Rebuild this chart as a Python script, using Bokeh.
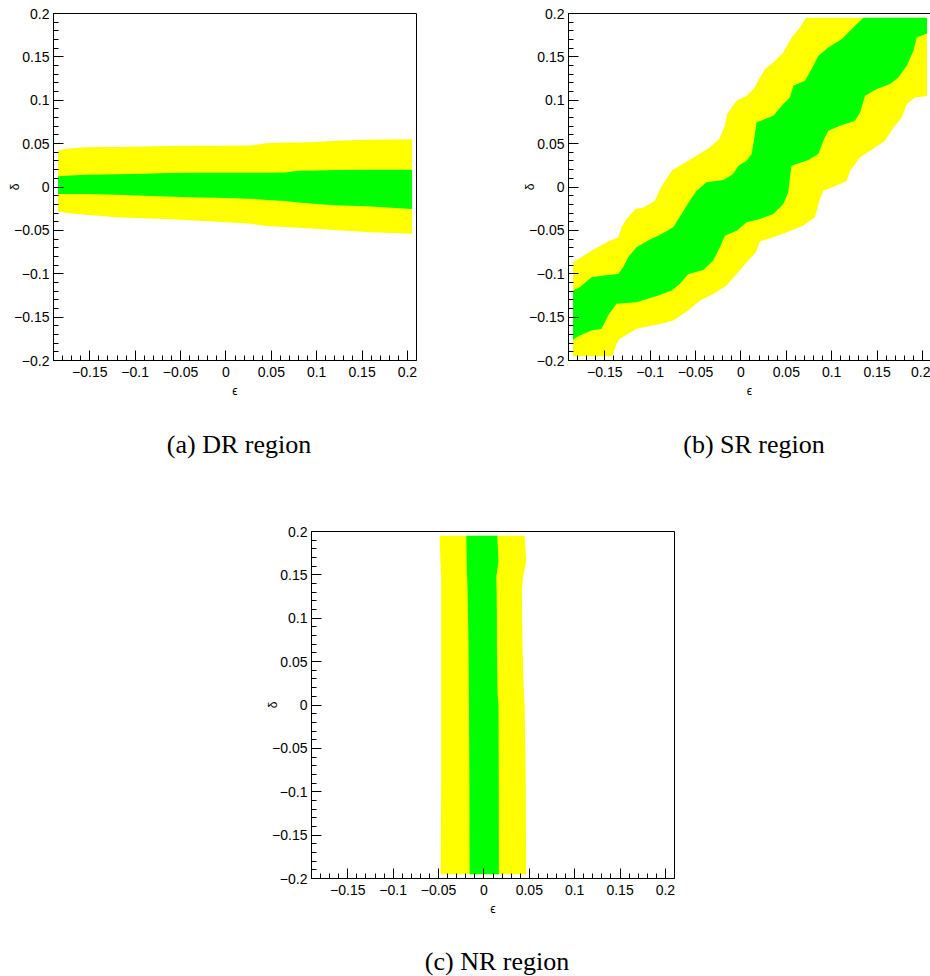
from bokeh.plotting import figure
from bokeh.models import FixedTicker, CustomJSTickFormatter, LinearAxis, Spacer, Range1d, Div
from bokeh.layouts import column, row
from bokeh.embed import file_html
from bokeh.resources import INLINE

# ---------------- data ----------------
tick_values = [-0.2, -0.15, -0.1, -0.05, 0.0, 0.05, 0.1, 0.15, 0.2]
tick_labels = ["\u22120.2", "\u22120.15", "\u22120.1", "\u22120.05", "0", "0.05", "0.1", "0.15", "0.2"]
minor_values = [round(-0.2 + 0.01 * i, 2) for i in range(41)]
captions = ["(a) DR region", "(b) SR region", "(c) NR region"]

# (a) DR region: band boundaries vs epsilon
dr_eps = [-0.185, -0.175, -0.155, -0.12, -0.09, -0.065, -0.03, -0.01, 0.025, 0.035,
          0.045, 0.065, 0.08, 0.1, 0.12, 0.155, 0.205]
dr_yellow_up = [0.042, 0.044, 0.0457, 0.0462, 0.0466, 0.0472, 0.0476, 0.0476, 0.0478, 0.049,
                0.0503, 0.0512, 0.0514, 0.0518, 0.0534, 0.0545, 0.0549]
dr_green_up = [0.0123, 0.013, 0.0142, 0.0148, 0.0152, 0.016, 0.0163, 0.0165, 0.0165, 0.0165,
               0.0165, 0.0168, 0.0188, 0.019, 0.0195, 0.020, 0.020]
dr_green_lo = [-0.0081, -0.0081, -0.0082, -0.009, -0.010, -0.011, -0.012, -0.0125, -0.0135, -0.014,
               -0.015, -0.016, -0.018, -0.0195, -0.021, -0.0223, -0.0253]
dr_yellow_lo = [-0.028, -0.030, -0.032, -0.035, -0.036, -0.037, -0.039, -0.040, -0.042, -0.0434,
                -0.045, -0.046, -0.047, -0.048, -0.0497, -0.052, -0.054]

# (b) SR region: contour outlines (epsilon, delta)
sr_outer_eps = [-0.185, -0.170, -0.157, -0.1445, -0.135, -0.1316, -0.126, -0.116, -0.108, -0.095,
                -0.0875, -0.0754, -0.0673, -0.0489, -0.0342, -0.0239, -0.0176, -0.0151, -0.0048, 0.0063,
                0.0147, 0.0191, 0.0265, 0.0357, 0.0467, 0.0559, 0.0651, 0.0717, 0.205,
                0.205, 0.1919, 0.1827, 0.1772, 0.168, 0.1588, 0.1423, 0.1313, 0.1202, 0.1165,
                0.1092, 0.0908, 0.0864, 0.0816, 0.0688, 0.0504, 0.0357, 0.021, 0.0165, 0.0063,
                -0.0048, -0.0158, -0.0305, -0.0452, -0.0581, -0.0746, -0.0893, -0.1151, -0.1335, -0.1371,
                -0.1408, -0.1426, -0.185]
sr_outer_delta = [-0.087, -0.077, -0.069, -0.062, -0.058, -0.0465, -0.037, -0.025, -0.024, -0.016,
                  0.001, 0.0196, 0.0246, 0.0361, 0.0457, 0.0553, 0.0706, 0.0841, 0.0994, 0.1052,
                  0.114, 0.1225, 0.1359, 0.1436, 0.1551, 0.1724, 0.1839, 0.195, 0.195,
                  0.105, 0.1033, 0.0956, 0.0802, 0.0687, 0.0534, 0.0418, 0.0342, 0.0188, 0.0073,
                  0.0035, -0.0042, -0.0157, -0.0349, -0.0445, -0.0522, -0.058, -0.0626, -0.0752, -0.0868,
                  -0.1002, -0.1136, -0.1232, -0.1309, -0.1424, -0.1539, -0.1578, -0.1635, -0.175, -0.1808,
                  -0.1923, -0.195, -0.195]
sr_inner_eps = [-0.185, -0.1776, -0.1647, -0.1518, -0.1353, -0.1298, -0.1243, -0.1151, -0.1022, -0.0875,
                -0.0746, -0.0654, -0.0562, -0.0489, -0.0379, -0.0195, -0.0085, -0.0029, 0.0063, 0.0118,
                0.0143, 0.0173, 0.0357, 0.0449, 0.054, 0.0577, 0.0706, 0.0779, 0.0853, 0.0963,
                0.111, 0.1239, 0.1349, 0.205,
                0.205, 0.1938, 0.1901, 0.1827, 0.1735, 0.1643, 0.1496, 0.1368, 0.1313, 0.1257,
                0.1092, 0.0963, 0.0908, 0.0853, 0.0743, 0.0559, 0.054, 0.0522, 0.0467, 0.0357,
                0.021, 0.0063, -0.0048, -0.0176, -0.0232, -0.0305, -0.0415, -0.0581, -0.0673, -0.0765,
                -0.0912, -0.1151, -0.1371, -0.1463, -0.1537, -0.1647, -0.1776, -0.185]
sr_inner_delta = [-0.1194, -0.1155, -0.104, -0.1021, -0.1002, -0.0925, -0.081, -0.0695, -0.0618, -0.0541,
                  -0.0464, -0.0311, -0.0157, -0.0042, 0.0054, 0.0081, 0.015, 0.0246, 0.0304, 0.038,
                  0.0534, 0.0745, 0.0821, 0.0937, 0.1033, 0.1167, 0.1225, 0.1359, 0.1512, 0.1608,
                  0.1704, 0.1839, 0.195, 0.195,
                  0.177, 0.1724, 0.157, 0.1397, 0.1263, 0.1186, 0.1129, 0.1052, 0.086, 0.0764,
                  0.0706, 0.0649, 0.0534, 0.038, 0.0311, 0.0246, 0.0112, -0.0061, -0.0196, -0.0311,
                  -0.0369, -0.0407, -0.0503, -0.0561, -0.0695, -0.0848, -0.0956, -0.1002, -0.1117, -0.1194,
                  -0.1251, -0.1328, -0.1347, -0.1482, -0.1635, -0.1655, -0.1712, -0.1762]

# (c) NR region: band boundaries vs delta
nr_delta = [0.195, 0.166, 0.147, 0.132, 0.109, 0.07, 0.013, 0.001, -0.083, -0.195]
nr_yellow_left = [-0.0488, -0.048, -0.047, -0.047, -0.047, -0.047, -0.047, -0.047, -0.047, -0.0477]
nr_green_left = [-0.0194, -0.019, -0.0185, -0.018, -0.0176, -0.017, -0.0166, -0.0165, -0.016, -0.0158]
nr_green_right = [0.0147, 0.0161, 0.0136, 0.0140, 0.0142, 0.0143, 0.0150, 0.0161, 0.0163, 0.0165]
nr_yellow_right = [0.0448, 0.0466, 0.0430, 0.0418, 0.0420, 0.0425, 0.044, 0.0448, 0.0460, 0.0466]

YELLOW = "#ffff00"
GREEN = "#00ff00"


def make_fig(width, height, xr, left, top, right, bottom, outline=True):
    p = figure(width=width, height=height, x_range=Range1d(*xr), y_range=Range1d(-0.2, 0.2),
               output_backend="svg", toolbar_location=None,
               min_border_left=left, min_border_top=top, min_border_right=right,
               min_border_bottom=bottom)
    p.grid.visible = False
    p.outline_line_color = "black" if outline else None
    p.outline_line_width = 1
    p.background_fill_color = "white"
    p.border_fill_color = "white"
    fmt = CustomJSTickFormatter(args=dict(vals=tick_values, labs=tick_labels), code="""
        let b = 0;
        for (let i = 0; i < vals.length; i++) {
            if (Math.abs(vals[i] - tick) < Math.abs(vals[b] - tick)) b = i;
        }
        return labs[b];
    """)
    for ax in (p.xaxis[0], p.yaxis[0]):
        ax.ticker = FixedTicker(ticks=tick_values, minor_ticks=minor_values)
        ax.formatter = fmt
        ax.major_tick_in = 10
        ax.major_tick_out = 0
        ax.minor_tick_in = 5
        ax.minor_tick_out = 0
        ax.axis_line_color = "black"
        ax.major_tick_line_color = "black"
        ax.minor_tick_line_color = "black"
        ax.major_label_text_font = "Liberation Sans"
        ax.major_label_text_font_size = "14px"
        ax.major_label_text_color = "black"
        ax.axis_label_text_font = "Liberation Sans"
        ax.axis_label_text_font_size = "12px"
        ax.axis_label_text_font_style = "normal"
        ax.axis_label_text_color = "black"
    p.xaxis[0].axis_label = "\u03f5"
    p.yaxis[0].axis_label = "\u03b4"
    p.xaxis[0].major_label_standoff = 6
    p.yaxis[0].major_label_standoff = 4
    p.xaxis[0].axis_label_standoff = 4
    p.yaxis[0].axis_label_standoff = -11
    return p


def caption_div(text, width, height, pad):
    html = ('<div style="width:%dpx;height:%dpx;box-sizing:border-box;padding-top:%dpx;'
            'font-family:\'Liberation Serif\';font-size:26px;line-height:30px;'
            'text-align:center;color:black;white-space:nowrap;">%s</div>') % (width, height, pad, text)
    return Div(text=html, width=width, height=height, margin=(0, 0, 0, 0))


# (a)
pa = make_fig(508, 404, (-0.19, 0.21), 53, 13, 92, 44)
pa.varea(x=dr_eps, y1=dr_yellow_lo, y2=dr_yellow_up, fill_color=YELLOW)
pa.varea(x=dr_eps, y1=dr_green_lo, y2=dr_green_up, fill_color=GREEN)

# (b)
pb = make_fig(422, 404, (-0.19, 0.2089), 60, 13, 0, 44, outline=False)
pb.patch(sr_outer_eps, sr_outer_delta, fill_color=YELLOW, line_color=None)
pb.patch(sr_inner_eps, sr_inner_delta, fill_color=GREEN, line_color=None)
top_ax = LinearAxis(ticker=FixedTicker(ticks=[]), major_tick_in=0, major_tick_out=0,
                    minor_tick_in=0, minor_tick_out=0, major_label_text_font_size="0px",
                    major_label_standoff=0, axis_line_color="black")
pb.add_layout(top_ax, "above")

# (c)
pc = make_fig(485, 436, (-0.19, 0.21), 55, 45, 67, 44)
pc.harea(y=nr_delta, x1=nr_yellow_left, x2=nr_yellow_right, fill_color=YELLOW)
pc.harea(y=nr_delta, x1=nr_green_left, x2=nr_green_right, fill_color=GREEN)

cap_row_ab = row(caption_div(captions[0], 478, 82, 26), Spacer(width=100, height=82),
                 caption_div(captions[1], 352, 82, 26))
cap_row_c = row(Spacer(width=266, height=52), caption_div(captions[2], 462, 52, 25))

layout = column(row(pa, pb), cap_row_ab,
                row(Spacer(width=256, height=10), pc), cap_row_c)

open("out.html", "w").write(file_html(layout, INLINE))
